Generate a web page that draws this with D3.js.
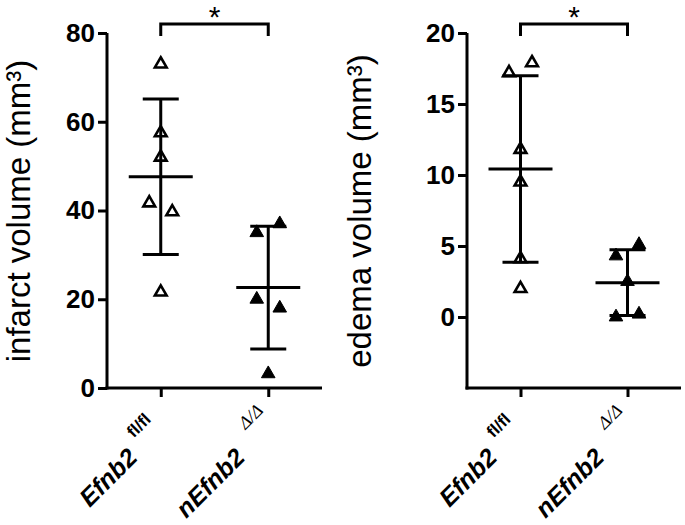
<!DOCTYPE html>
<html>
<head>
<meta charset="utf-8">
<script src="https://cdn.jsdelivr.net/npm/d3@7"></script>
<style>
  body { margin: 0; background: #fff; }
  svg { display: block; font-family: "Liberation Sans", Arial, sans-serif; }
</style>
</head>
<body>
<div id="chart"></div>
<script>
// group names (the superscript genotype is drawn separately)
var groups = ["Efnb2", "nEfnb2"];
var groupSup = ["fl/fl", "\u0394/\u0394"];

// infarct volume (mm3)
var infarctFlox = [73, 57.5, 52, 41.7, 39.7, 21.6];
var infarctKO = [35, 37, 20, 18, 3.2];

// edema volume (mm3)
var edemaFlox = [17.2, 17.9, 11.8, 9.5, 4.1, 2.0];
var edemaKO = [4.3, 5.1, 2.5, 0, 0.2];

var infarctTicks = [0, 20, 40, 60, 80];
var edemaTicks = [0, 5, 10, 15, 20];

var W = 685, H = 525;
var svg = d3.select("#chart").append("svg")
  .attr("width", W)
  .attr("height", H);

function panel(opt) {
  var y = d3.scaleLinear().domain(opt.domain).range([388, 33]);
  var x = d3.scalePoint().domain(groups).range([opt.left, opt.right]).padding(0.5);
  var g = svg.append("g");

  // y axis
  var yAxis = g.append("g")
    .attr("transform", "translate(" + opt.left + ",0)")
    .call(d3.axisLeft(y).tickValues(opt.ticks).tickSize(9).tickPadding(3).tickSizeOuter(0));
  yAxis.select(".domain").remove();
  yAxis.append("line")
    .attr("x1", 0).attr("x2", 0)
    .attr("y1", y.range()[0] + 1.5).attr("y2", y.range()[1])
    .attr("stroke", "#000").attr("stroke-width", 3);
  yAxis.selectAll(".tick line").attr("stroke-width", 3);
  yAxis.selectAll(".tick text")
    .attr("font-size", 26)
    .attr("font-weight", "bold")
    .attr("fill", "#000")
    .attr("font-family", "Liberation Sans, Arial, sans-serif");

  // x axis
  var xAxis = g.append("g")
    .attr("transform", "translate(0,388)")
    .call(d3.axisBottom(x).tickSize(9).tickFormat(""));
  xAxis.select(".domain").remove();
  xAxis.append("line")
    .attr("x1", opt.left - 1.5).attr("x2", opt.right)
    .attr("y1", 0).attr("y2", 0)
    .attr("stroke", "#000").attr("stroke-width", 3);
  xAxis.selectAll(".tick line").attr("stroke-width", 3);

  // x labels, rotated 45 degrees, main name ends left of the tick
  groups.forEach(function(name, i) {
    var lab = g.append("g")
      .attr("transform", "translate(" + (x(name) - 22) + ",459) rotate(-45)");
    lab.append("text")
      .attr("text-anchor", "end")
      .attr("font-size", 25)
      .attr("font-weight", "bold")
      .attr("font-style", "italic")
      .attr("fill", "#000")
      .text(name);
    lab.append("text")
      .attr("x", i == 0 ? 11 : 20)
      .attr("y", i == 0 ? -18 : -21)
      .attr("font-size", i == 0 ? 17 : 18)
      .attr("font-family", i == 0 ? "Liberation Sans, Arial, sans-serif" : "Liberation Serif, serif")
      .attr("font-style", i == 0 ? "normal" : "italic")
      .attr("font-weight", i == 0 ? "bold" : "normal")
      .attr("fill", "#000")
      .text(groupSup[i]);
  });

  // y label
  g.append("text")
    .attr("transform", "translate(" + opt.labelX + ",211) rotate(-90)")
    .attr("text-anchor", "middle")
    .attr("font-size", 33)
    .attr("fill", "#000")
    .text(opt.label);

  // mean and SD bars
  opt.data.forEach(function(vals, i) {
    var cx = x(groups[i]);
    var m = d3.mean(vals), sd = d3.deviation(vals);
    var bars = g.append("g").attr("stroke", "#000").attr("stroke-width", 3);
    bars.append("line").attr("x1", cx).attr("x2", cx).attr("y1", y(m - sd)).attr("y2", y(m + sd));
    bars.append("line").attr("x1", cx - 18).attr("x2", cx + 18).attr("y1", y(m + sd)).attr("y2", y(m + sd));
    bars.append("line").attr("x1", cx - 18).attr("x2", cx + 18).attr("y1", y(m - sd)).attr("y2", y(m - sd));
    bars.append("line").attr("x1", cx - 32).attr("x2", cx + 32).attr("y1", y(m)).attr("y2", y(m));

    // simple dodge: points that would overlap are spread side by side
    var pts = vals.map(function(v, k) { return {v: v, k: k, py: y(v), dx: 0}; });
    var sorted = pts.slice().sort(function(a, b) { return a.py - b.py; });
    var clusters = [], cur = [];
    sorted.forEach(function(p) {
      if (cur.length && p.py - cur[cur.length - 1].py > 16) { clusters.push(cur); cur = []; }
      cur.push(p);
    });
    if (cur.length) clusters.push(cur);
    clusters.forEach(function(c) {
      c.sort(function(a, b) { return a.k - b.k; });
      c.forEach(function(p, j) { p.dx = (j - (c.length - 1) / 2) * 23; });
    });

    var sym = d3.symbol().type(d3.symbolTriangle).size(i == 0 ? 60 : 80);
    g.selectAll(".pt" + i)
      .data(pts)
      .enter()
      .append("path")
      .attr("d", sym)
      .attr("transform", function(d) { return "translate(" + (cx + d.dx) + "," + d.py + ")"; })
      .attr("fill", i == 0 ? "none" : "#000")
      .attr("stroke", "#000")
      .attr("stroke-width", i == 0 ? 2.6 : 1)
      .attr("stroke-linejoin", "miter");
  });

  // significance bracket
  var x1 = x(groups[0]), x2 = x(groups[1]);
  g.append("path")
    .attr("d", "M" + x1 + ",36V24H" + x2 + "V36")
    .attr("fill", "none")
    .attr("stroke", "#000")
    .attr("stroke-width", 3);
  g.append("text")
    .attr("x", (x1 + x2) / 2)
    .attr("y", 27)
    .attr("text-anchor", "middle")
    .attr("font-size", 30)
    .attr("fill", "#000")
    .text("*");
}

panel({
  left: 107, right: 322, domain: [0, 80], ticks: infarctTicks,
  data: [infarctFlox, infarctKO], label: "infarct volume (mm\u00b3)", labelX: 30
});
panel({
  left: 467, right: 681, domain: [-5, 20], ticks: edemaTicks,
  data: [edemaFlox, edemaKO], label: "edema volume (mm\u00b3)", labelX: 371
});
</script>
</body>
</html>
